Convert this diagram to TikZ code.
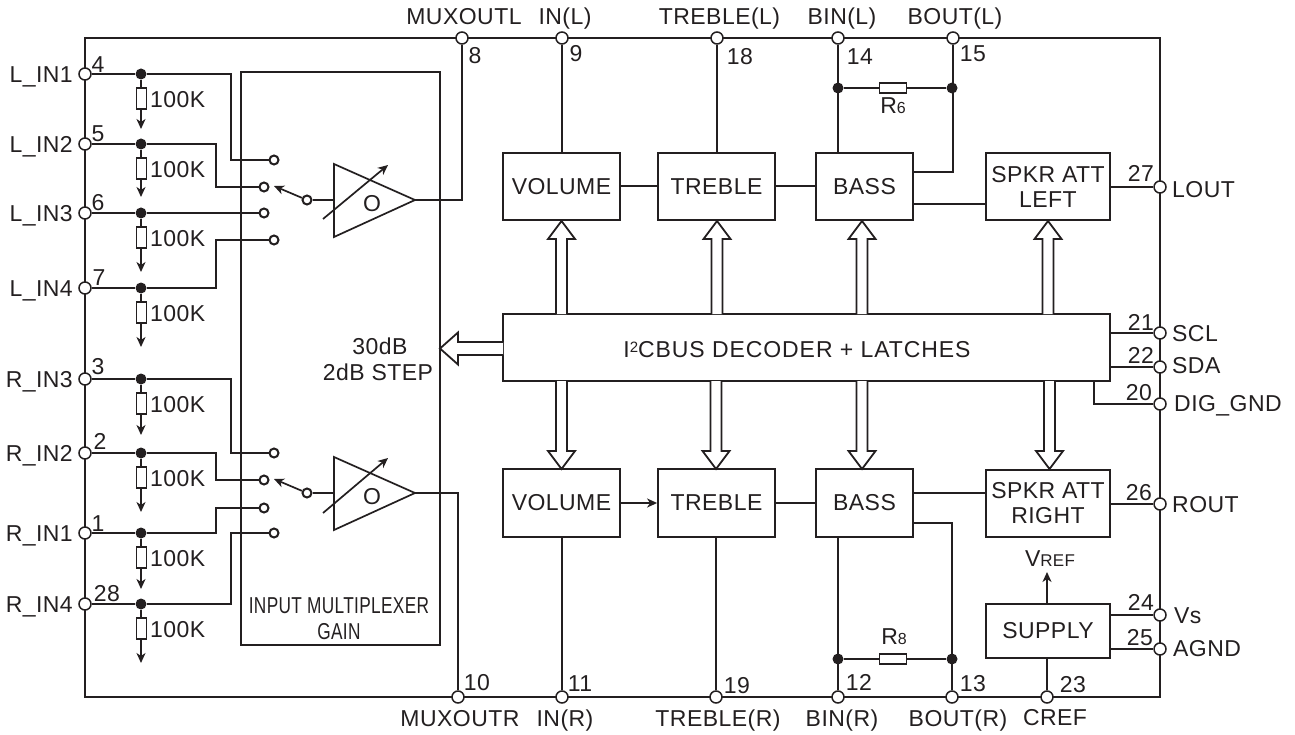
\documentclass[tikz,border=0pt]{standalone}
\usepackage{fontspec}
\setmainfont[LetterSpace=2]{Liberation Sans}
\usetikzlibrary{arrows.meta,calc}
\definecolor{ink}{HTML}{231F20}
\tikzset{
  wire/.style={draw=ink,line width=1.7pt},
  pin/.style={circle,draw=ink,fill=white,line width=1.5pt,inner sep=0pt,minimum size=12pt},
  contact/.style={circle,draw=ink,fill=white,line width=2pt,inner sep=0pt,minimum size=9pt},
  dotjoin/.style={circle,fill=ink,inner sep=0pt,minimum size=11pt},
  blockbox/.style={draw=ink,fill=white,line width=1.8pt,inner sep=0pt,align=center,text=ink,font=\fontsize{23}{25}\selectfont},
  resv/.style={draw=ink,fill=white,line width=1.6pt,inner sep=0pt,minimum width=10pt,minimum height=21pt},
  resh/.style={draw=ink,fill=white,line width=1.6pt,inner sep=0pt,minimum width=27pt,minimum height=10pt},
  txt/.style={inner sep=0pt,text=ink,text height=16.5pt,text depth=0pt,font=\fontsize{23}{25}\selectfont},
  bus/.style={draw=ink,fill=white,line width=1.8pt,line join=miter},
  tipwire/.style={wire,-{Stealth[length=10pt,width=9pt,inset=3pt]}},
  amp/.style={draw=ink,fill=white,line width=1.7pt,line join=miter}
}
\newcommand{\busarrow}[4]{%
  \coordinate (hb) at ($(#2)!18pt!(#1)$);
  \draw[bus] ($(#1)!#3!90:(#2)$) -- ($(hb)!#3!90:(#2)$) -- ($(hb)!#4!90:(#2)$) -- (#2)
     -- ($(hb)!#4!-90:(#2)$) -- ($(hb)!#3!-90:(#2)$) -- ($(#1)!#3!-90:(#2)$);
}
\begin{document}
\begin{tikzpicture}[x=1pt,y=-1pt]
\useasboundingbox (0,0) rectangle (1295,735);
% outer frame and mux box
\coordinate (fa) at (85,38); \coordinate (fb) at (1160,697);
\draw[wire] (fa) rectangle (fb);
\draw[wire] (241,72) rectangle (440,645);
% input branches
\foreach \n/\lab/\yy/\num/\nx/\ny/\gnd in {
  a/L\_IN1/74/4/98/64/129,
  b/L\_IN2/144/5/98/133/197,
  c/L\_IN3/213/6/98/202/272,
  d/L\_IN4/288/7/99/277/347,
  e/R\_IN3/379/3/98/366/435,
  f/R\_IN2/453/2/100/441/512,
  g/R\_IN1/533/1/98/523/589,
  h/R\_IN4/604/28/107/593/663}{
  \node[dotjoin] (d\n) at (141,\yy) {};
  \node[pin] (p\n) at (85,\yy) {};
  \draw[wire] (p\n) -- (d\n);
  \node[resv] (r\n) at ($(d\n)+(0.5,24.5)$) {};
  \coordinate (g\n) at (141,\gnd);
  \draw[wire] (d\n) -- (d\n |- r\n.north);
  \draw[tipwire] (d\n |- r\n.south) -- (g\n);
  \node[txt,anchor=west] (k\n) at ($(d\n)+(9,25)$) {100K};
  \node[txt,anchor=east] (l\n) at (73,\yy) {\lab};
  \node[txt] (m\n) at (\nx,\ny) {\num};
}
% switches, upper
\node[contact] (s1) at (274,160) {};
\node[contact] (s2) at (264,187) {};
\node[contact] (s3) at (264,213) {};
\node[contact] (s4) at (274,240) {};
\node[contact] (su) at (307,200) {};
\coordinate (su2) at (274,186);
\draw[tipwire] (su) -- (su2);
\draw[wire] (da) -- (231,74) -- (231,160) -- (s1);
\draw[wire] (db) -- (216,144) -- (216,187) -- (s2);
\draw[wire] (dc) -- (s3);
\draw[wire] (dd) -- (216,288) -- (216,240) -- (s4);
\coordinate (ampuin) at (334,200);
\coordinate (ampuout) at (415,200);
\draw[wire] (su) -- (ampuin);
\draw[amp] (334,164) -- (334,237) -- (ampuout) -- cycle;
\node[txt] (ou) at (372,203) {O};
\coordinate (vua) at (323,219); \coordinate (vub) at (388,165);
\draw[tipwire] (vua) -- (vub);
% switches, lower
\node[contact] (t1) at (274,453) {};
\node[contact] (t2) at (264,480) {};
\node[contact] (t3) at (264,508) {};
\node[contact] (t4) at (274,533) {};
\node[contact] (tu) at (307,493) {};
\coordinate (tu2) at (274,479);
\draw[tipwire] (tu) -- (tu2);
\draw[wire] (de) -- (231,379) -- (231,453) -- (t1);
\draw[wire] (df) -- (216,453) -- (216,480) -- (t2);
\draw[wire] (dg) -- (216,533) -- (216,508) -- (t3);
\draw[wire] (dh) -- (231,604) -- (231,533) -- (t4);
\coordinate (ampdin) at (334,493);
\coordinate (ampdout) at (415,493);
\draw[wire] (tu) -- (ampdin);
\draw[amp] (334,457) -- (334,530) -- (ampdout) -- cycle;
\node[txt] (od) at (372,496) {O};
\coordinate (vda) at (323,513); \coordinate (vdb) at (388,458);
\draw[tipwire] (vda) -- (vdb);
% blocks
\node[blockbox,minimum width=117pt,minimum height=67pt] (vl) at (561.5,186.5) {VOLUME};
\node[blockbox,minimum width=117pt,minimum height=67pt] (tl) at (716.5,186.5) {TREBLE};
\node[blockbox,minimum width=97pt,minimum height=67pt] (bl) at (864.5,186.5) {BASS};
\node[blockbox,minimum width=124pt,minimum height=67pt] (sl) at (1048,186.5) {SPKR ATT\\LEFT};
\node[blockbox,minimum width=117pt,minimum height=68pt] (vr) at (561.5,503) {VOLUME};
\node[blockbox,minimum width=117pt,minimum height=68pt] (tr) at (716.5,503) {TREBLE};
\node[blockbox,minimum width=97pt,minimum height=68pt] (br) at (864.5,503) {BASS};
\node[blockbox,minimum width=124pt,minimum height=67pt] (sr) at (1048,503.5) {SPKR ATT\\RIGHT};
\node[blockbox,minimum width=607pt,minimum height=67pt] (dec) at (806.5,347.5) {};
\node[txt] (dect) at (797,349) {\addfontfeature{LetterSpace=4}I\raisebox{5pt}{\fontsize{15}{15}\selectfont 2}CBUS DECODER + LATCHES};
\node[blockbox,minimum width=124pt,minimum height=54pt] (sup) at (1048,631) {SUPPLY};
% top pins
\node[pin] (p8) at (462,38) {};
\node[pin] (p9) at (562,38) {};
\node[pin] (p18) at (717,38) {};
\node[pin] (p14) at (838,38) {};
\node[pin] (p15) at (953,38) {};
% bottom pins
\node[pin] (p10) at (458,697) {};
\node[pin] (p11) at (562,697) {};
\node[pin] (p19) at (716,697) {};
\node[pin] (p12) at (838,697) {};
\node[pin] (p13) at (952,697) {};
\node[pin] (p23) at (1047,697) {};
% right pins
\node[pin] (p27) at (1160,187) {};
\node[pin] (p21) at (1160,333) {};
\node[pin] (p22) at (1160,367) {};
\node[pin] (p20) at (1160,404) {};
\node[pin] (p26) at (1160,504) {};
\node[pin] (p24) at (1160,615) {};
\node[pin] (p25) at (1160,649) {};
% amp outputs
\draw[wire] (ampuout) -- (p8 |- ampuout) -- (p8);
\draw[wire] (ampdout) -- (p10 |- ampdout) -- (p10);
% pin to block wires
\draw[wire] (p9) -- (p9 |- vl.north);
\draw[wire] (p18) -- (p18 |- tl.north);
\draw[wire] (p14) -- (p14 |- bl.north);
\draw[wire] (p11) -- (p11 |- vr.south);
\draw[wire] (p19) -- (p19 |- tr.south);
\draw[wire] (p12) -- (p12 |- br.south);
\coordinate (yl) at (0,186);
\draw[wire] (vl.east |- yl) -- (tl.west |- yl);
\draw[wire] (tl.east |- yl) -- (bl.west |- yl);
\draw[tipwire] (vr) -- (tr);
\draw[wire] (tr) -- (br);
\draw[wire] (sl.east |- p27) -- (p27);
\draw[wire] (sr.east |- p26) -- (p26);
\draw[wire] (dec.east |- p21) -- (p21);
\draw[wire] (dec.east |- p22) -- (p22);
\coordinate (dg) at (1094,381);
\draw[wire] (dg) -- (dg |- p20) -- (p20);
\draw[wire] (sup.east |- p24) -- (p24);
\draw[wire] (sup.east |- p25) -- (p25);
\coordinate (blo) at (913,172); \coordinate (bls) at (913,204);
\draw[wire] (blo) -- (p15 |- blo) -- (p15);
\draw[wire] (bls) -- (sl.west |- bls);
\coordinate (bro) at (913,523); \coordinate (brs) at (913,493);
\draw[wire] (bro) -- (p13 |- bro) -- (p13);
\draw[wire] (brs) -- (sr.west |- brs);
\draw[wire] (p23) -- (p23 |- sup.south);
\coordinate (vref) at (1047,572);
\draw[tipwire] (p23 |- sup.north) -- (vref);
% feedback resistors
\node[dotjoin] (j1) at (838,88) {};
\node[dotjoin] (j2) at (952,88) {};
\node[resh] (r6) at (893,88) {};
\draw[wire] (j1) -- (r6); \draw[wire] (r6) -- (j2);
\node[dotjoin] (j3) at (838,659) {};
\node[dotjoin] (j4) at (952,659) {};
\node[resh] (r8) at (893,659) {};
\draw[wire] (j3) -- (r8); \draw[wire] (r8) -- (j4);
% bus arrows
\foreach \n/\xa/\xb in {a/561.5/561.5,b/717/717,c/862/862,e/1048/1048}{
  \coordinate (ua\n) at (\xa,314); \coordinate (ub\n) at (\xb,221);
  \busarrow{ua\n}{ub\n}{5.5pt}{13.5pt}
}
\foreach \n/\xa/\xb in {a/561.5/561.5,b/716/716,c/862/862,e/1049.5/1049.5}{
  \coordinate (da\n) at (\xa,381); \coordinate (db\n) at (\xb,469);
  \busarrow{da\n}{db\n}{5.5pt}{13.5pt}
}
\coordinate (la) at (503,348.5); \coordinate (lb) at (440,348.5);
\busarrow{la}{lb}{6.5pt}{16pt}
% text
\node[txt] (t30) at (380,346) {30dB};
\node[txt] (t2db) at (378,372) {2dB STEP};
\node[txt] (tinp) at (339,605) {\scalebox{0.75}[1]{INPUT MULTIPLEXER}};
\node[txt] (tgain) at (339,631) {\scalebox{0.75}[1]{GAIN}};
\node[txt] (tr6) at (893,105) {R{\fontsize{16}{16}\selectfont 6}};
\node[txt] (tr8) at (894,636) {R{\fontsize{16}{16}\selectfont 8}};
\node[txt] (tvref) at (1050,558) {V{\fontsize{17}{17}\selectfont REF}};
% top labels
\node[txt] at (464,16) {MUXOUTL};
\node[txt] at (565,16) {IN(L)};
\node[txt] at (719.5,16) {TREBLE(L)};
\node[txt] at (842,16) {BIN(L)};
\node[txt] at (955,16) {BOUT(L)};
\node[txt] at (475,55) {8};
\node[txt] at (576,53) {9};
\node[txt] at (740,56) {18};
\node[txt] at (860,56) {14};
\node[txt] at (973,53) {15};
% bottom labels
\node[txt] at (460,718) {MUXOUTR};
\node[txt] at (565,718) {IN(R)};
\node[txt] at (718,718) {TREBLE(R)};
\node[txt] at (842,718) {BIN(R)};
\node[txt] at (958,718) {BOUT(R)};
\node[txt] at (1055,717) {CREF};
\node[txt] at (477,682) {10};
\node[txt] at (580,683) {11};
\node[txt] at (737,685) {19};
\node[txt] at (859,682) {12};
\node[txt] at (973,683) {13};
\node[txt] at (1073,684) {23};
% right labels
\node[txt] at (1141,173) {27};
\node[txt,anchor=west] at (1172,189) {LOUT};
\node[txt] at (1141,322) {21};
\node[txt,anchor=west] at (1172,333) {SCL};
\node[txt] at (1141,355) {22};
\node[txt,anchor=west] at (1172,365) {SDA};
\node[txt] at (1139,392) {20};
\node[txt,anchor=west] at (1174,403) {DIG\_GND};
\node[txt] at (1139,492) {26};
\node[txt,anchor=west] at (1172,504) {ROUT};
\node[txt] at (1141,602) {24};
\node[txt,anchor=west] at (1174,615) {Vs};
\node[txt] at (1140,637) {25};
\node[txt,anchor=west] at (1173,648) {AGND};
\end{tikzpicture}
\end{document}
